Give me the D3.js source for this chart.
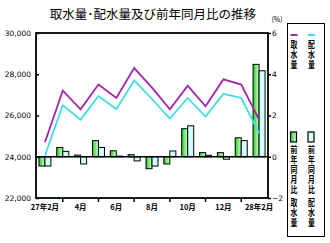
<!DOCTYPE html>
<html>
<head>
<meta charset="utf-8">
<script src="https://cdn.jsdelivr.net/npm/d3@7"></script>
<style>
  body { margin: 0; background: #fff; }
  text { font-family: "Noto Sans CJK JP", "DejaVu Sans", sans-serif; }
</style>
</head>
<body>
<div id="chart"></div>
<script>
// Months (27年2月 .. 28年2月)
const months = ["27年2月", "3月", "4月", "5月", "6月", "7月", "8月", "9月", "10月", "11月", "12月", "1月", "28年2月"];
// Only every other month gets a label
const labeledMonths = ["27年2月", "4月", "6月", "8月", "10月", "12月", "28年2月"];

// Water volumes (left axis)
const intake = [24700, 27200, 26300, 27500, 26850, 28300, 27350, 26300, 27450, 26450, 27750, 27500, 25800];
const distribution = [24050, 26500, 25800, 26950, 26300, 27700, 26800, 25850, 26850, 25950, 27050, 26850, 25150];

// Year-on-year change in % (right axis)
const intakeYoY = [-0.45, 0.45, 0.08, 0.78, 0.29, 0.1, -0.58, -0.35, 1.36, 0.2, 0.2, 0.92, 4.48];
const distYoY = [-0.45, 0.26, -0.35, 0.45, 0.03, -0.2, -0.45, 0.28, 1.5, 0.07, -0.12, 0.78, 4.17];

const leftTicks = [22000, 24000, 26000, 28000, 30000];
const rightTicks = [-2, 0, 2, 4, 6];

const width = 330, height = 243;
const plot = { left: 36, right: 268, top: 33, bottom: 198 };

const svg = d3.select("#chart")
    .append("svg")
    .attr("width", width)
    .attr("height", height);

// Gradient for the intake YoY bars
const grad = svg.append("defs").append("linearGradient")
    .attr("id", "greenGrad")
    .attr("x1", "0%").attr("x2", "100%").attr("y1", "0%").attr("y2", "0%");
grad.append("stop").attr("offset", "0%").attr("stop-color", "#1fcf1f");
grad.append("stop").attr("offset", "100%").attr("stop-color", "#d8ffd8");

// Scales
const x = d3.scaleBand()
    .domain(months)
    .range([plot.left, plot.right])
    .padding(0);

const y = d3.scaleLinear()
    .domain([22000, 30000])
    .range([plot.bottom, plot.top]);

const y2 = d3.scaleLinear()
    .domain([-2, 6])
    .range([plot.bottom, plot.top]);

const cx = d => x(d) + x.bandwidth() / 2;
const barW = 6;

// Title
svg.append("text")
    .attr("x", 153)
    .attr("y", 19)
    .attr("text-anchor", "middle")
    .style("font-size", "12.5px")
    .text("取水量･配水量及び前年同月比の推移");

svg.append("text")
    .attr("x", 277)
    .attr("y", 22)
    .attr("text-anchor", "middle")
    .style("font-size", "7px")
    .text("(%)");

// Bars: intake YoY (green) and distribution YoY (light cyan)
svg.selectAll(".barA")
    .data(months)
    .enter().append("rect")
    .attr("x", d => cx(d) - barW)
    .attr("y", (d, i) => Math.min(y2(intakeYoY[i]), y2(0)))
    .attr("width", barW)
    .attr("height", (d, i) => Math.abs(y2(intakeYoY[i]) - y2(0)))
    .attr("fill", "url(#greenGrad)")
    .attr("stroke", "#000")
    .attr("stroke-width", 1);

svg.selectAll(".barB")
    .data(months)
    .enter().append("rect")
    .attr("x", d => cx(d))
    .attr("y", (d, i) => Math.min(y2(distYoY[i]), y2(0)))
    .attr("width", barW)
    .attr("height", (d, i) => Math.abs(y2(distYoY[i]) - y2(0)))
    .attr("fill", "#d4ffff")
    .attr("stroke", "#000")
    .attr("stroke-width", 1);

// Zero line for the bars
svg.append("line")
    .attr("x1", plot.left).attr("x2", plot.right)
    .attr("y1", y2(0)).attr("y2", y2(0))
    .attr("stroke", "#000")
    .attr("stroke-width", 1.5);

// Lines
const line = (vals) => d3.line()
    .x((d, i) => cx(months[i]))
    .y(d => y(d))(vals);

svg.append("path")
    .attr("d", line(intake))
    .attr("fill", "none")
    .attr("stroke", "#a424b0")
    .attr("stroke-width", 1.8);

svg.append("path")
    .attr("d", line(distribution))
    .attr("fill", "none")
    .attr("stroke", "#40dde6")
    .attr("stroke-width", 1.8);

// Plot frame
svg.append("rect")
    .attr("x", plot.left)
    .attr("y", plot.top)
    .attr("width", plot.right - plot.left)
    .attr("height", plot.bottom - plot.top)
    .attr("fill", "none")
    .attr("stroke", "#000")
    .attr("stroke-width", 1.8);

// Left axis
const leftAxis = svg.append("g")
    .attr("transform", `translate(${plot.left},0)`)
    .call(d3.axisLeft(y).tickValues(leftTicks).tickSizeInner(-3).tickSizeOuter(0).tickPadding(5).tickFormat(d3.format(",")));
leftAxis.select(".domain").remove();
leftAxis.selectAll("line").attr("stroke-width", 1.5);
leftAxis.selectAll("text")
    .style("font-size", "7.5px")
    .style("font-family", "'DejaVu Sans', sans-serif")
    .attr("fill", "#000");

// Right axis
const rightAxis = svg.append("g")
    .attr("transform", `translate(${plot.right},0)`)
    .call(d3.axisRight(y2).tickValues(rightTicks).tickSizeInner(3).tickSizeOuter(0).tickPadding(1));
rightAxis.select(".domain").remove();
rightAxis.selectAll("line").attr("stroke-width", 1.5);
rightAxis.selectAll("text")
    .style("font-size", "7.5px")
    .style("font-family", "'DejaVu Sans', sans-serif")
    .attr("fill", "#000");

// Bottom axis: tick marks between labelled months, labels every other month
const tickMonths = months.filter((d, i) => i % 2 === 1);
svg.selectAll(".xtick")
    .data(tickMonths)
    .enter().append("line")
    .attr("x1", d => cx(d)).attr("x2", d => cx(d))
    .attr("y1", plot.bottom).attr("y2", plot.bottom + 4)
    .attr("stroke", "#000")
    .attr("stroke-width", 1.5);

svg.selectAll(".xlabel")
    .data(labeledMonths)
    .enter().append("text")
    .attr("x", d => cx(d))
    .attr("y", plot.bottom + 12)
    .attr("text-anchor", "middle")
    .style("font-size", "7.5px")
    .style("font-weight", "bold")
    .text(d => d);

// Legend
const legend = svg.append("g");
legend.append("rect")
    .attr("x", 287.5).attr("y", 23.5)
    .attr("width", 37).attr("height", 213)
    .attr("fill", "#fff")
    .attr("stroke", "#000")
    .attr("stroke-width", 1);

const legendCols = [
    { x: 294, color: "#a424b0", fill: "url(#greenGrad)", name: "取水量" },
    { x: 311.5, color: "#40dde6", fill: "#d4ffff", name: "配水量" }
];

// vertical text (top to bottom), squeezed horizontally
function verticalText(g, cxPos, yStart, str) {
    g.append("text")
        .attr("transform", `translate(${cxPos},${yStart}) scale(0.72,1)`)
        .style("writing-mode", "vertical-rl")
        .style("font-size", "9.5px")
        .style("font-weight", "bold")
        .style("letter-spacing", "0.5px")
        .text(str);
}

legendCols.forEach(col => {
    legend.append("line")
        .attr("x1", col.x - 3.5).attr("x2", col.x + 3.5)
        .attr("y1", 35).attr("y2", 35)
        .attr("stroke", col.color)
        .attr("stroke-width", 2);
    verticalText(legend, col.x, 40, col.name);

    legend.append("rect")
        .attr("x", col.x - 3.5).attr("y", 132)
        .attr("width", 6).attr("height", 10)
        .attr("fill", col.fill)
        .attr("stroke", "#000")
        .attr("stroke-width", 1.2);
    verticalText(legend, col.x, 145, "前年同月比");
    verticalText(legend, col.x, 198, col.name);
});
</script>
</body>
</html>
